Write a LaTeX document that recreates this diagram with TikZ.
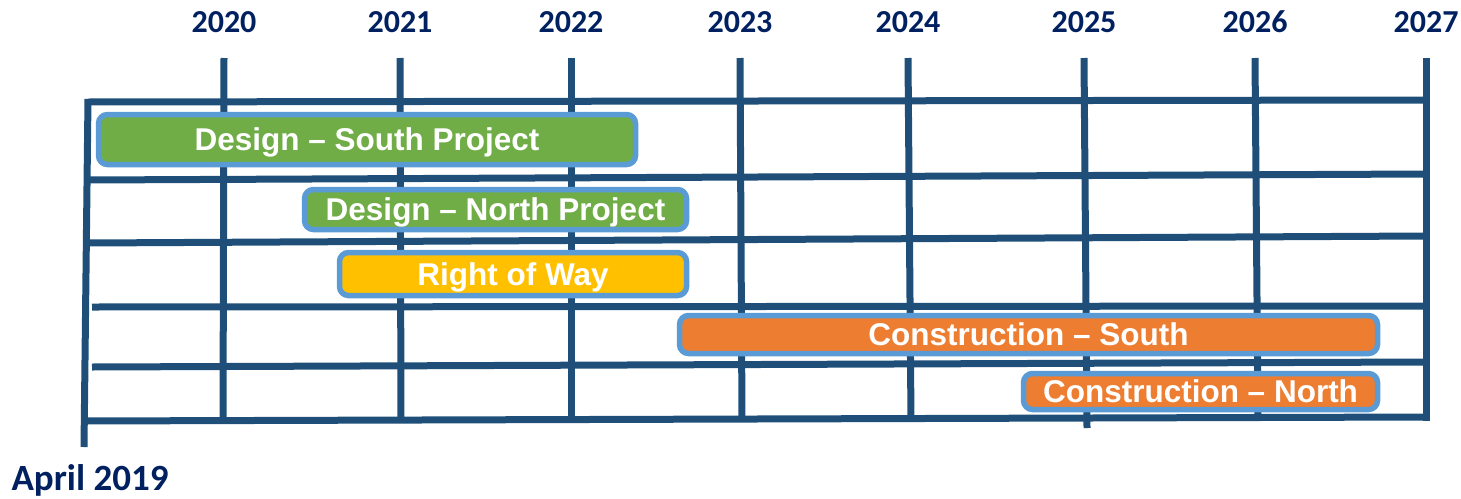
\documentclass[tikz,border=0pt]{standalone}
\usepackage{fontspec}
\usepackage{xcolor}
\usepackage{tikz}
\setmainfont{Liberation Sans}
\newfontfamily\yearfont{Carlito}

\definecolor{gridblue}{RGB}{31,78,121}
\definecolor{yearblue}{RGB}{0,32,96}
\definecolor{barborder}{RGB}{91,155,213}
\definecolor{barGreen}{RGB}{112,173,71}
\definecolor{barYellow}{RGB}{255,192,0}
\definecolor{barOrange}{RGB}{237,125,49}

\tikzset{
	gridline/.style={draw=gridblue, line width=7pt},
	yearlabel/.style={text=yearblue, inner sep=0pt, font=\yearfont\bfseries\fontsize{32}{32}\selectfont},
	taskbar/.style={draw=barborder, line width=5.5pt, rounded corners=9pt, inner sep=0pt, text depth=0pt,
		text=white, font=\bfseries\fontsize{31.5}{31.5}\selectfont},
}

\begin{document}
\begin{tikzpicture}[x=1pt, y=-1pt]
				\useasboundingbox (0,0) rectangle (1461,498);
				
				% horizontal rows
				\foreach \xl/\yl/\yr in {88/102/100, 88/180/174, 88/243/236, 92/307/306, 92/367/362, 84/421/417}
				\draw[gridline] (\xl,\yl)--(1426,\yr);
				
				% left edge
				\draw[gridline] (88,99)--(84,447);
				
				% year lines and labels
				\foreach \xt/\xb/\yb/\yr in {224/223/421/2020, 400/401/421/2021, 571/571/420/2022,
					740/742/420/2023, 908/911/420/2024, 1084/1087/428/2025, 1255/1258/419/2026, 1426/1426/421/2027}
				{
					\draw[gridline] (\xt,58)--(\xb,\yb);
					\node[yearlabel] (y\yr) at (\xt,22) {\yr};
				}
				
				\node[yearlabel, font=\yearfont\bfseries\fontsize{37}{37}\selectfont] (start) at (90,480) {April 2019};
				
				% task bars
				\node[taskbar, fill=barGreen, minimum width=537, minimum height=50] (dsouth) at (367,139.5) {Design – South Project};
				\node[taskbar, fill=barGreen, minimum width=382, minimum height=40] (dnorth) at (495.5,209.5) {Design – North Project};
				\node[taskbar, fill=barYellow, minimum width=347, minimum height=43] (row) at (513,274) {Right of Way};
				\node[taskbar, fill=barOrange, minimum width=698, minimum height=38] (csouth) at (1028.5,334.5) {Construction – South};
				\node[taskbar, fill=barOrange, minimum width=354, minimum height=36] (cnorth) at (1200.5,391.5) {Construction – North};
			\end{tikzpicture}
\end{document}
